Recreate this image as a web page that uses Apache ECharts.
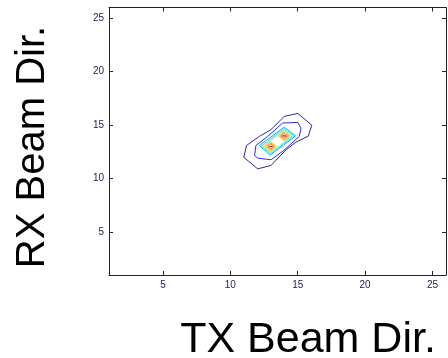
<!DOCTYPE html>
<html>
<head>
<meta charset="utf-8">
<script src="https://cdn.jsdelivr.net/npm/echarts@6/dist/echarts.min.js"></script>
<style>
html,body{margin:0;padding:0;background:#fff;}
#c{width:448px;height:358px;}
</style>
</head>
<body>
<div id="c"></div>
<script>
// Axis ranges and tick labels
const xRange = [1, 26];
const yRange = [1, 26];
const xTicks = [5, 10, 15, 20, 25];
const yTicks = [5, 10, 15, 20, 25];
const xTitle = 'TX Beam Dir.';
const yTitle = 'RX Beam Dir.';

// Contour lines (data coordinates), outermost to innermost level
const level1 = [[11,12],[11.2,13.1],[12.15,13.95],[13,14.57],[14,15.82],[15,16.1],[16.05,15],[15.78,13.98],[14.87,13.42],[14.13,12.7],[13.02,11.24],[12.03,10.92],[11,12]];
const level2 = [[11.8,12.17],[11.9,13.1],[12.77,13.95],[13.88,15.2],[15,15.26],[15.24,14.73],[15.12,13.95],[14.38,13.11],[13.88,12.55],[13.02,11.77],[12.03,11.92],[11.8,12.17]];
const level3 = [[12.16,13.1],[14.0,14.82],[14.85,14.0],[12.95,12.2],[12.16,13.1]];
const level4 = [[12.3,13.05],[14.0,14.7],[14.72,14.0],[13.0,12.32],[12.3,13.05]];
const level5 = [[12.42,13.0],[14.0,14.58],[14.6,14.0],[13.0,12.44],[12.42,13.0]];
const level6a = [[12.54,13],[13,13.46],[13.46,13],[13,12.54],[12.54,13]];
const level6b = [[13.54,14],[14,14.46],[14.46,14],[14,13.54],[13.54,14]];
const level7a = [[12.65,13],[13,13.35],[13.35,13],[13,12.65],[12.65,13]];
const level7b = [[13.65,14],[14,14.35],[14.35,14],[14,13.65],[13.65,14]];
const level8a = [[12.76,13],[13,13.24],[13.24,13],[13,12.76],[12.76,13]];
const level8b = [[13.76,14],[14,14.24],[14.24,14],[14,13.76],[13.76,14]];
const level9a = [[12.88,13],[13,13.12],[13.12,13],[13,12.88],[12.88,13]];
const level9b = [[13.88,14],[14,14.12],[14.12,14],[14,13.88],[13.88,14]];

const contourSets = [
  {data: level1, color: '#2b2b9e'},
  {data: level2, color: '#2a2af0'},
  {data: level3, color: '#1aa8ff'},
  {data: level4, color: '#20ecf8'},
  {data: level5, color: '#80f0a0'},
  {data: level6a, color: '#e8d840'},
  {data: level6b, color: '#e8d840'},
  {data: level7a, color: '#ffa830'},
  {data: level7b, color: '#ffa830'},
  {data: level8a, color: '#ff6a30'},
  {data: level8b, color: '#ff6a30'},
  {data: level9a, color: '#e01818'},
  {data: level9b, color: '#e01818'}
];

const frame = '#222';
const labelColor = '#1c1c50';

function xAx(pos, showLabel) {
  return {
    type: 'value', min: xRange[0], max: xRange[1], position: pos,
    axisLine: {show: true, onZero: false, lineStyle: {color: frame, width: 1}},
    axisTick: {show: true, inside: true, length: 4, customValues: xTicks, lineStyle: {color: frame}},
    axisLabel: {show: showLabel, customValues: xTicks, color: labelColor, fontSize: 10, margin: 5, fontFamily: 'Liberation Sans'},
    splitLine: {show: false}
  };
}
function yAx(pos, showLabel) {
  return {
    type: 'value', min: yRange[0], max: yRange[1], position: pos,
    axisLine: {show: true, onZero: false, lineStyle: {color: frame, width: 1}},
    axisTick: {show: true, inside: true, length: 4, customValues: yTicks, lineStyle: {color: frame}},
    axisLabel: {show: showLabel, customValues: yTicks, color: labelColor, fontSize: 10, margin: 5, fontFamily: 'Liberation Sans'},
    splitLine: {show: false}
  };
}

const chart = echarts.init(document.getElementById('c'), null, {renderer: 'canvas'});
chart.setOption({
  animation: false,
  backgroundColor: '#fff',
  grid: {left: 109, right: 2, top: 7.5, bottom: 83},
  xAxis: [xAx('bottom', true), xAx('top', false)],
  yAxis: [yAx('left', true), yAx('right', false)],
  series: contourSets.map(function (c) {
    return {
      type: 'line', xAxisIndex: 0, yAxisIndex: 0,
      data: c.data, symbol: 'none', silent: true,
      lineStyle: {color: c.color, width: 1}
    };
  }),
  graphic: [
    {type: 'text', x: 308, y: 340, style: {text: xTitle, font: '43px "Liberation Sans"', fill: '#000', align: 'center', verticalAlign: 'middle'}},
    {type: 'text', x: 33, y: 147, rotation: Math.PI / 2, style: {text: yTitle, font: '40px "Liberation Sans"', fill: '#000', align: 'center', verticalAlign: 'middle'}}
  ]
});
</script>
</body>
</html>
